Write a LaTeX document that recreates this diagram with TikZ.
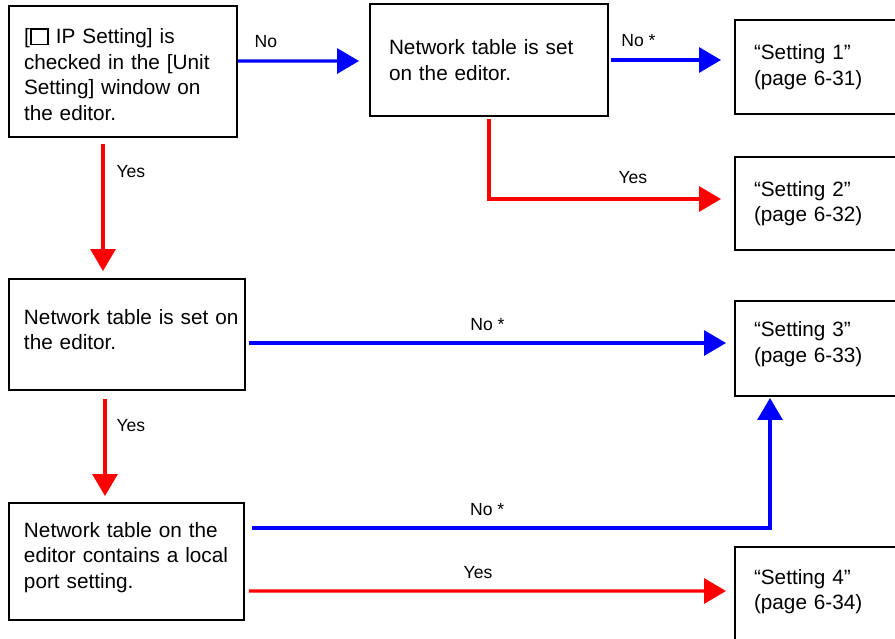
\documentclass[tikz,border=0pt]{standalone}
\usepackage{fontspec}
\setmainfont{Liberation Sans}
\usetikzlibrary{arrows.meta, positioning, calc}
\definecolor{nocol}{HTML}{0000FF}
\definecolor{yescol}{HTML}{FF0000}
\newcommand{\chkbox}{{\setlength{\fboxrule}{1pt}\setlength{\fboxsep}{0pt}\fbox{\rule{0pt}{0.66em}\hspace{0.76em}}}}
\newcommand{\liftby}[1]{\par\vskip#1\hrule height0pt width0pt}
\tikzset{
  qbox/.style={rectangle, draw=black, line width=1.1pt, text width=#1,
               align=left, inner xsep=0.3cm, inner ysep=0pt,
               font=\fontsize{11.8}{14.6}\selectfont},
  qbox/.default=4cm,
  rbox/.style={qbox=2.64cm, inner xsep=0.38cm},
  lbl/.style={font=\fontsize{10}{12}\selectfont, inner sep=0pt},
  arr/.style={-{Triangle[length=0.44cm, width=0.5cm]}, line width=1.8pt, draw=#1},
  noarr/.style={arr=nocol},
  yesarr/.style={arr=yescol},
}

\begin{document}
\begin{tikzpicture}
  % Page frame
  \clip (0,0) rectangle (17.9,-12.76);

  % Decision boxes
  \node[qbox=3.96cm, minimum height=2.62cm] (ipset) at (2.46,-1.43) {[\chkbox{} IP Setting] is\\checked in the [Unit\\Setting] window on\\the editor.\liftby{-0.12cm}};
  \node[qbox=4.0cm, inner xsep=0.38cm, minimum height=2.24cm] (tblA) at (9.78,-1.2) {Network table is set\\on the editor.};
  \node[qbox=4.12cm, minimum height=2.22cm] (tblB) at (2.54,-6.69) {\mbox{Network table is set on}\\the editor.\liftby{0.2cm}};
  \node[qbox=4.1cm, minimum height=2.34cm] (portchk) at (2.53,-11.23) {Network table on the\\\mbox{editor contains a local}\\port setting.\liftby{0.16cm}};

  % Result boxes
  \node[rbox, minimum height=1.88cm] (set1) at (16.4,-1.34) {``Setting 1''\\(page 6-31)};
  \node[rbox, minimum height=1.86cm] (set2) at (16.4,-4.07) {``Setting 2''\\(page 6-32)};
  \node[rbox, minimum height=1.9cm] (set3) at (16.4,-6.97) {``Setting 3''\\(page 6-33)\liftby{0.18cm}};
  \node[rbox, minimum height=1.88cm] (set4) at (16.4,-11.88) {``Setting 4''\\(page 6-34)\liftby{0.1cm}};

  % Arrows
  \draw[noarr] ([yshift=0.21cm]ipset.east) -- node[lbl, above=0.24cm, pos=0.23] {No} ([xshift=-0.2cm,yshift=-0.02cm]tblA.west);
  \draw[noarr] ([xshift=0.04cm]tblA.east) -- node[lbl, above=0.24cm, pos=0.25] {No *} ([xshift=-0.26cm,yshift=0.14cm]set1.west);
  \draw[yesarr] ([yshift=-0.04cm]tblA.south) |- node[lbl, above=0.28cm, pos=0.81] {Yes} ([xshift=-0.26cm,yshift=0.09cm]set2.west);
  \draw[yesarr] ([xshift=-0.4cm,yshift=-0.12cm]ipset.south) -- node[lbl, right=0.24cm, pos=0.22] {Yes} ([xshift=-0.4cm,yshift=0.14cm]ipset.south |- tblB.north);
  \draw[noarr] ([xshift=0.06cm,yshift=-0.17cm]tblB.east) -- node[lbl, above=0.22cm, pos=0.5] {No *} ([xshift=-0.16cm,yshift=0.11cm]set3.west);
  \draw[yesarr] ([xshift=-0.44cm,yshift=-0.16cm]tblB.south) -- node[lbl, right=0.2cm, pos=0.27] {Yes} ([xshift=-0.44cm,yshift=0.12cm]tblB.south |- portchk.north);
  \draw[noarr] ([xshift=0.14cm,yshift=0.67cm]portchk.east) -| node[lbl, above=0.22cm, pos=0.227] {No *} ([xshift=-1.0cm,yshift=-0.02cm]set3.south);
  \draw[yesarr] ([xshift=0.08cm,yshift=-0.59cm]portchk.east) -- node[lbl, above=0.22cm, pos=0.48] {Yes} ([xshift=-0.16cm,yshift=0.06cm]set4.west);
\end{tikzpicture}
\end{document}
